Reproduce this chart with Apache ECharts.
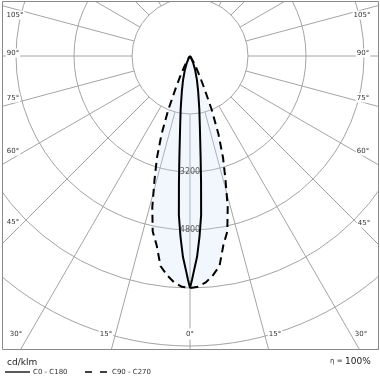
<!DOCTYPE html>
<html><head><meta charset="utf-8">
<script src="https://cdn.jsdelivr.net/npm/echarts@6/dist/echarts.min.js"></script>
<style>html,body{margin:0;padding:0;background:#fff}#c{width:380px;height:380px}</style>
</head><body><div id="c"></div>
<script>
// ---- data (cd/klm vs gamma angle, degrees) ----
const gammaC0 = [0, 0.5, 1, 2, 3, 4, 5, 6, 7, 8, 10, 13, 16, 20, 25, 30, 40];
const intensityC0 = [6400, 6180, 5950, 5550, 5000, 4400, 3500, 2800, 2300, 1950, 1480, 1000, 700, 420, 200, 80, 0];
const gammaC90 = [0, 2, 4, 6, 8, 10, 12, 14, 16, 18, 20, 22, 24, 26, 28, 30, 35, 40];
const intensityC90 = [6400, 6370, 6260, 6080, 5850, 5300, 4950, 4300, 3550, 2950, 2300, 1600, 950, 580, 350, 200, 60, 0];
const radiusLabelValues = [3200, 4800];
const angleLabelsLeft = ['105°', '90°', '75°', '60°', '45°', '30°', '15°'];
const angleLabelsRight = ['15°', '30°', '45°', '60°', '75°', '90°', '105°'];
const angleLabelBottom = '0°';
const legendNames = ['C0 - C180', 'C90 - C270'];
const unitLabel = 'cd/klm';
const efficiency = '100%';

// ---- layout ----
const CX = 190, CY = 56, RPX = 580, RMAX = 16000, RSTEP = 1600;
const leftLabelPos = [[15, 15], [13, 53], [13, 98], [13, 151], [13, 222], [16, 334], [106, 334]];
const rightLabelPos = [[275, 334], [361, 334], [364, 223], [363, 151], [363, 98], [363, 53], [362, 15]];

function mirror(g, v) {
  const pts = [];
  for (let i = g.length - 1; i >= 0; i--) pts.push([v[i], -g[i]]);
  for (let i = 1; i < g.length; i++) pts.push([v[i], g[i]]);
  return pts;
}

const series = [];
for (let a = -180; a < 180; a += 15) {
  series.push({
    type: 'line', coordinateSystem: 'polar', silent: true, symbol: 'none', z: 1,
    lineStyle: { color: '#a4a4a4', width: 1 },
    data: [[RSTEP, a], [RMAX, a]]
  });
}
series.push({
  name: legendNames[1], type: 'line', coordinateSystem: 'polar', symbol: 'none', z: 3,
  lineStyle: { color: '#000', width: 2, type: [8, 5] },
  areaStyle: { color: 'rgba(200,222,245,0.35)' },
  data: mirror(gammaC90, intensityC90)
});
series.push({
  name: legendNames[0], type: 'line', coordinateSystem: 'polar', symbol: 'none', z: 4,
  lineStyle: { color: '#000', width: 2 },
  data: mirror(gammaC0, intensityC0)
});
series.push({
  type: 'scatter', coordinateSystem: 'polar', symbolSize: 0, z: 5,
  data: radiusLabelValues.map(v => [v, 0]),
  label: { show: true, position: 'inside', formatter: p => String(p.value[0]),
           color: '#333', fontSize: 8, fontFamily: 'DejaVu Sans' }
});

const txt = (x, y, t, opt) => Object.assign({
  type: 'text', x, y, z: 110,
  style: Object.assign({ text: t, fill: '#333', font: '7px "DejaVu Sans"', align: 'center', verticalAlign: 'middle' }, opt || {})
});

const graphic = [
  { type: 'rect', z: 100, shape: { x: 0, y: 350, width: 380, height: 30 }, style: { fill: '#fff' } },
  { type: 'rect', z: 100, shape: { x: 0, y: 0, width: 3, height: 380 }, style: { fill: '#fff' } },
  { type: 'rect', z: 100, shape: { x: 0, y: 0, width: 380, height: 2 }, style: { fill: '#fff' } },
  { type: 'rect', z: 100, shape: { x: 379, y: 0, width: 1, height: 380 }, style: { fill: '#fff' } },
  { type: 'rect', z: 105, shape: { x: 2.5, y: 1.5, width: 376, height: 348 }, style: { fill: null, stroke: '#8a8a8a', lineWidth: 1 } }
];
angleLabelsLeft.forEach((t, i) => graphic.push(txt(leftLabelPos[i][0], leftLabelPos[i][1], t, { backgroundColor: '#fff', padding: [1, 1] })));
angleLabelsRight.forEach((t, i) => graphic.push(txt(rightLabelPos[i][0], rightLabelPos[i][1], t, { backgroundColor: '#fff', padding: [1, 1] })));
graphic.push(txt(190, 334, angleLabelBottom, { backgroundColor: '#fff', padding: [2, 2] }));
graphic.push(txt(7, 363, unitLabel, { align: 'left', font: '9px "DejaVu Sans"', fill: '#222' }));
graphic.push({ type: 'line', z: 110, shape: { x1: 5, y1: 372, x2: 30, y2: 372 }, style: { stroke: '#000', lineWidth: 1.3 } });
graphic.push(txt(33, 372, legendNames[0], { align: 'left' }));
graphic.push({ type: 'line', z: 110, shape: { x1: 85, y1: 372, x2: 108, y2: 372 }, style: { stroke: '#000', lineWidth: 1.3, lineDash: [7, 8] } });
graphic.push(txt(112, 372, legendNames[1], { align: 'left' }));
graphic.push(txt(330, 361, 'η =', { align: 'left' }));
graphic.push(txt(345, 362, efficiency, { align: 'left', font: '9px "DejaVu Sans"', fill: '#222' }));

const chart = echarts.init(document.getElementById('c'), null, { renderer: 'canvas' });
chart.setOption({
  animation: false,
  backgroundColor: '#fff',
  polar: { center: [CX, CY], radius: RPX },
  angleAxis: {
    type: 'value', min: -180, max: 180, startAngle: 90, clockwise: true,
    axisLine: { show: false }, axisTick: { show: false }, axisLabel: { show: false }, splitLine: { show: false }
  },
  radiusAxis: {
    type: 'value', min: 0, max: RMAX, interval: RSTEP,
    axisLine: { show: false }, axisTick: { show: false }, axisLabel: { show: false },
    splitLine: { show: true, lineStyle: { color: '#a4a4a4', width: 1 } }
  },
  series,
  graphic
});
</script></body></html>
